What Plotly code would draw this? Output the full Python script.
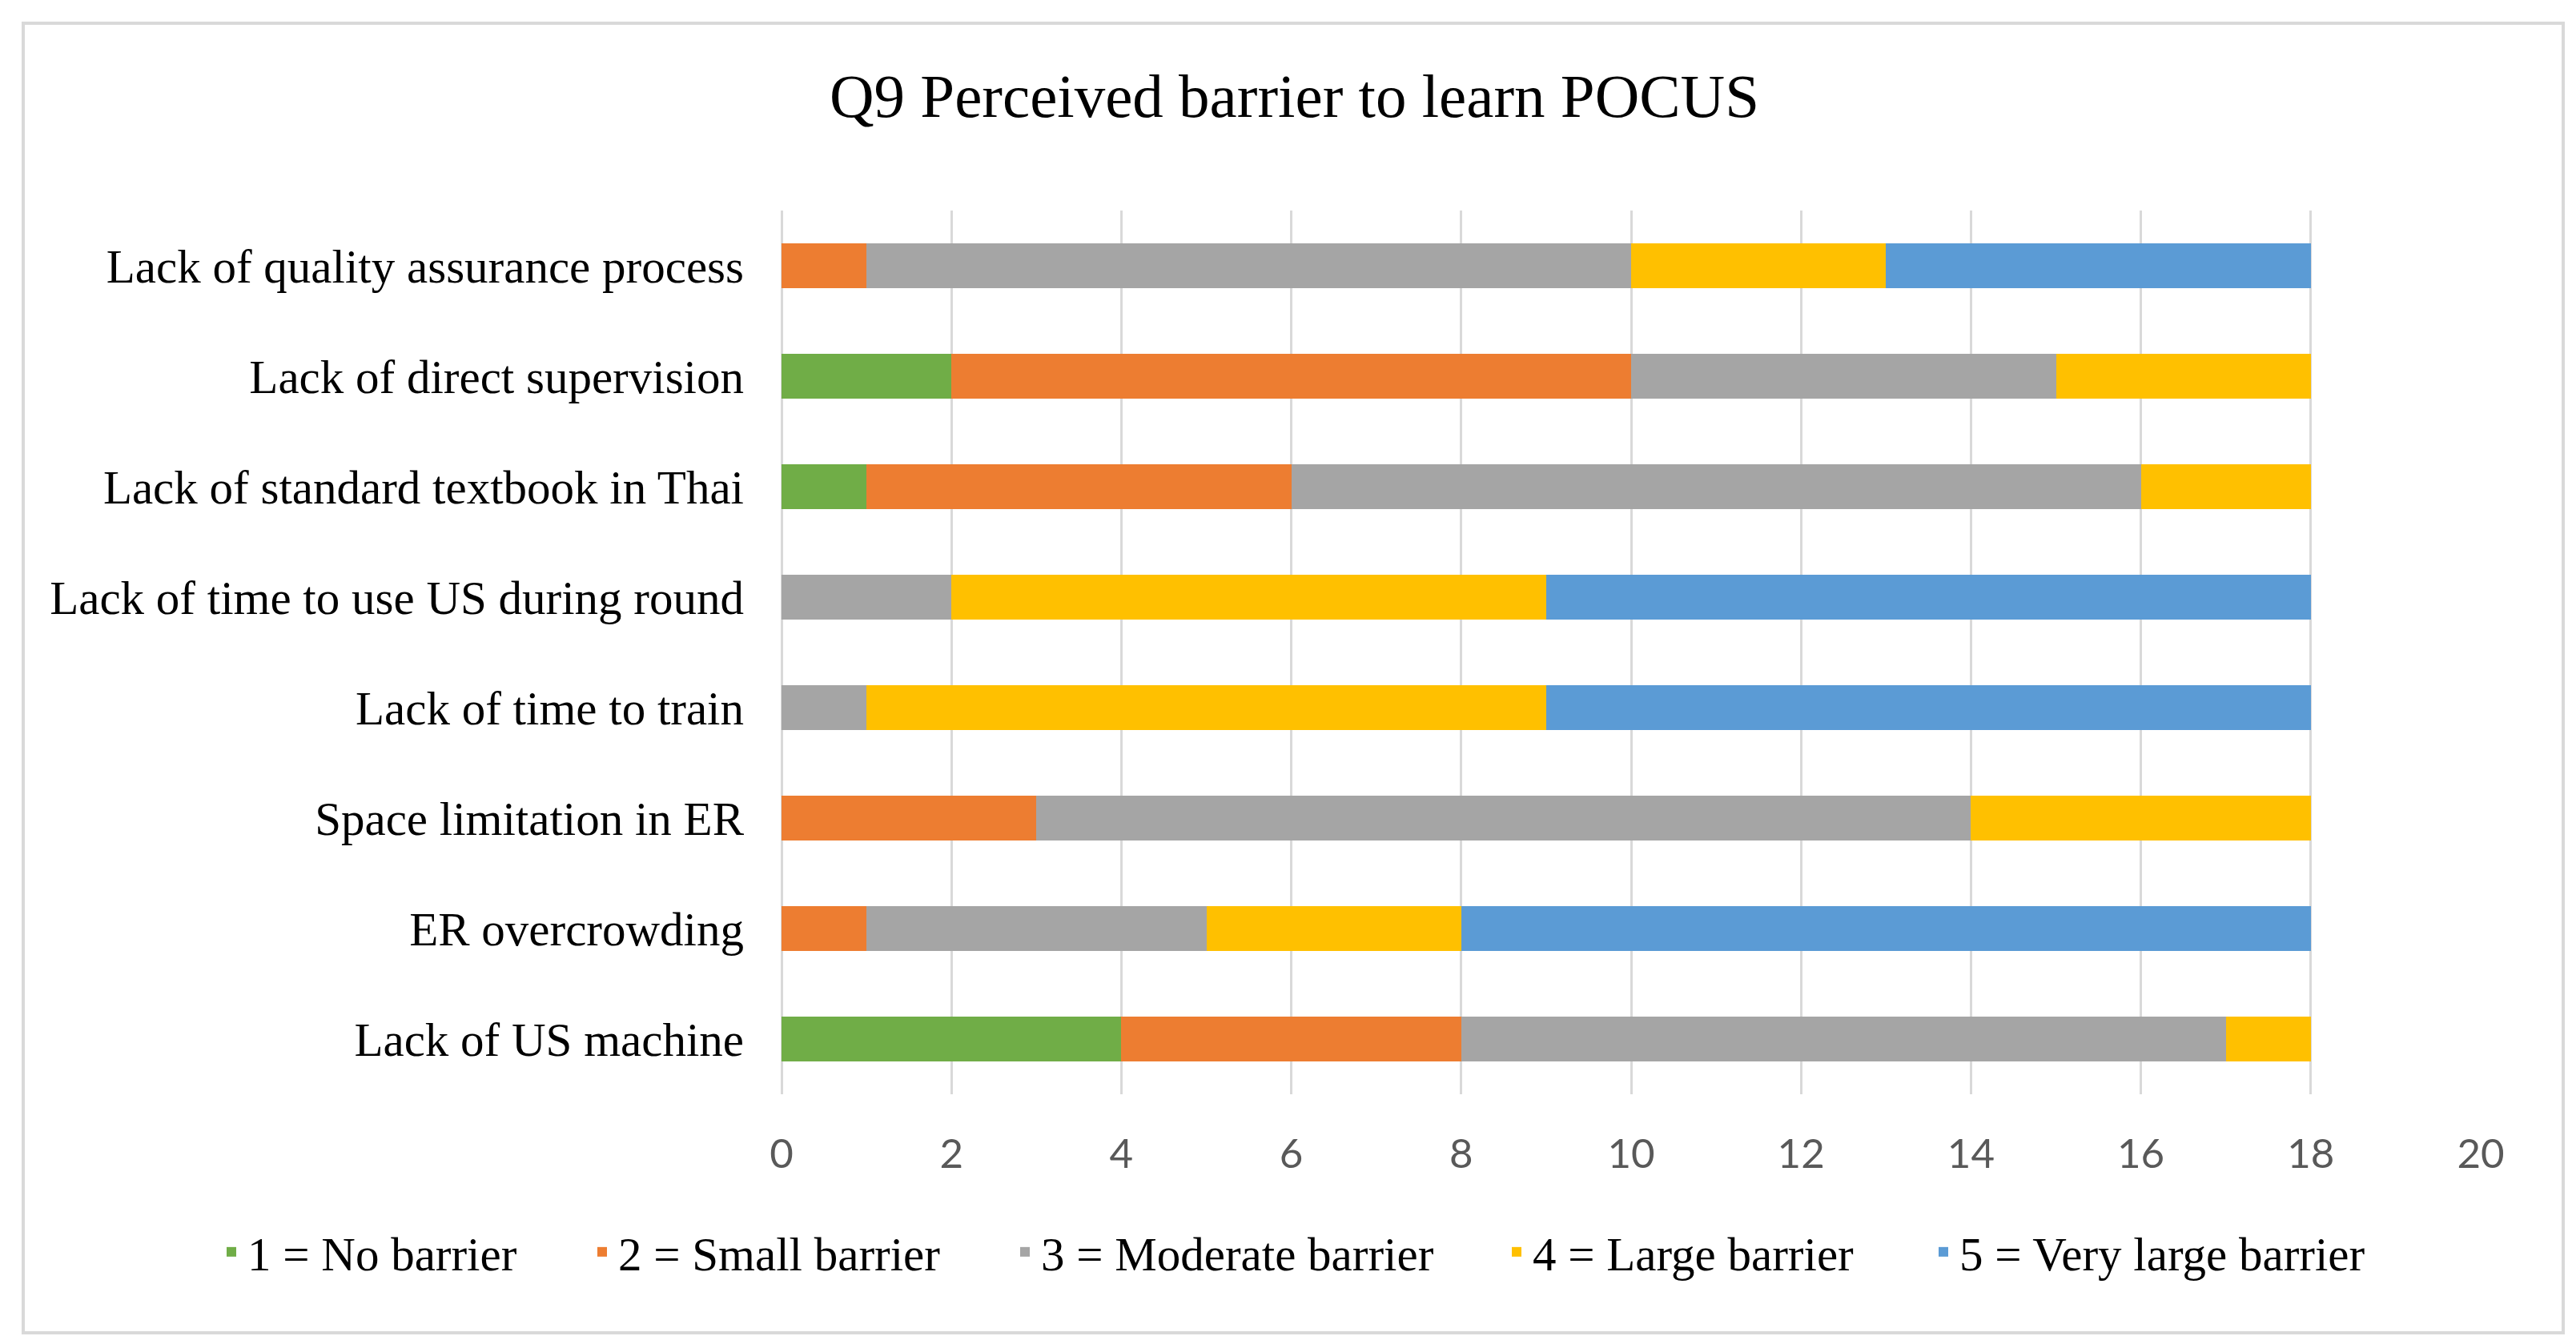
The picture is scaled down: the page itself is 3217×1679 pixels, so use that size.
import plotly.graph_objects as go

categories = [
    "Lack of quality assurance process",
    "Lack of direct supervision",
    "Lack of standard textbook in Thai",
    "Lack of time to use US during round",
    "Lack of time to train",
    "Space limitation in ER",
    "ER overcrowding",
    "Lack of US machine",
]
series_names = [
    "1 = No barrier",
    "2 = Small barrier",
    "3 = Moderate barrier",
    "4 = Large barrier",
    "5 = Very large barrier",
]
no_barrier = [0, 2, 1, 0, 0, 0, 0, 4]
small_barrier = [1, 8, 5, 0, 0, 3, 1, 4]
moderate_barrier = [9, 5, 10, 2, 1, 11, 4, 9]
large_barrier = [3, 3, 2, 7, 8, 4, 3, 1]
very_large_barrier = [5, 0, 0, 9, 9, 0, 10, 0]
x_ticks = [0, 2, 4, 6, 8, 10, 12, 14, 16, 18, 20]

colors = ["#70AD47", "#ED7D31", "#A5A5A5", "#FFC000", "#5B9BD5"]
values = [no_barrier, small_barrier, moderate_barrier, large_barrier, very_large_barrier]

SERIF = "Liberation Serif, Times New Roman, serif"
W, H = 3217, 1679
L, R, T, B = 968, 3090, 255, 1359

fig = go.Figure()
legend_ids = ["legend", "legend2", "legend3", "legend4", "legend5"]
for name, vals, col, lg in zip(series_names, values, colors, legend_ids):
    fig.add_trace(go.Bar(
        y=categories, x=vals, name=name, orientation="h",
        marker=dict(color=col, line=dict(width=0)),
        legend=lg,
    ))

legend_font = dict(family=SERIF, size=59, color="#000000")
legend_x_px = [261, 724, 1252, 1866, 2399]
legend_y = 1 - 1556 / H
legend_layouts = {}
for lg, xp in zip(legend_ids, legend_x_px):
    legend_layouts[lg] = dict(
        orientation="h", xref="container", yref="container",
        x=xp / W, y=legend_y, xanchor="left", yanchor="middle",
        font=legend_font, bgcolor="rgba(0,0,0,0)",
    )

fig.update_layout(
    width=W, height=H,
    font=dict(family=SERIF, color="#000000"),
    margin=dict(l=L, r=W - R, t=T, b=H - B, autoexpand=False),
    paper_bgcolor="white", plot_bgcolor="white",
    barmode="stack", bargap=0.6,
    title=dict(
        text="Q9 Perceived barrier to learn POCUS",
        xref="container", yref="container",
        x=0.5, y=1 - 111 / H, xanchor="center", yanchor="middle",
        font=dict(family=SERIF, size=77, color="#000000"),
    ),
    xaxis=dict(
        range=[0, 20], tickvals=x_ticks,
        showgrid=True, gridcolor="#D9D9D9", gridwidth=3,
        zeroline=True, zerolinecolor="#D9D9D9", zerolinewidth=3,
        showline=False, ticks="",
        ticklabelstandoff=40,
        tickfont=dict(family="Lato, Liberation Sans, sans-serif", size=51, color="#595959"),
    ),
    yaxis=dict(
        autorange="reversed", showgrid=False, zeroline=False, showline=False, ticks="",
        ticklabelstandoff=46,
        tickfont=dict(family=SERIF, size=59, color="#000000"),
    ),
    showlegend=True,
    **legend_layouts,
)

# outer chart border
pw = R - L
ph = B - T
fig.add_shape(
    type="rect", xref="paper", yref="paper",
    x0=(21 - L) / pw, x1=(3193 - L) / pw,
    y0=(B - 1657) / ph, y1=(B - 21) / ph,
    line=dict(color="#D9D9D9", width=4), fillcolor="rgba(0,0,0,0)", layer="below",
)

fig.write_html("out.html")
